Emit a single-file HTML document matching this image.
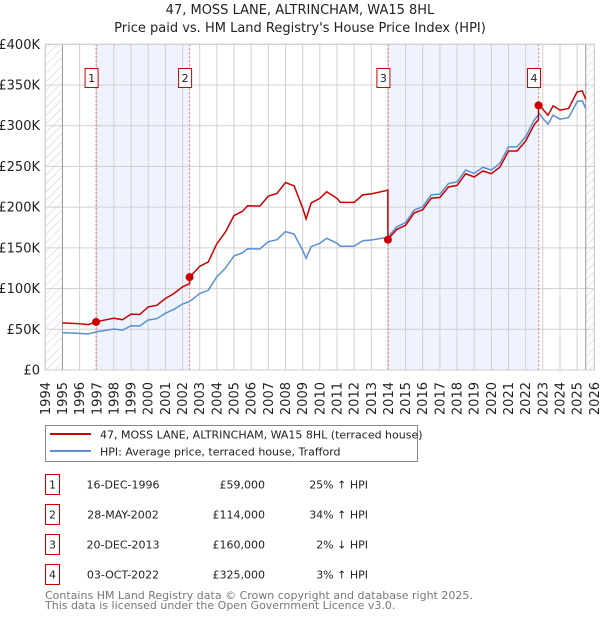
<!DOCTYPE html>
<html><head><meta charset="utf-8"><style>
body{margin:0;background:#fff;font-family:"DejaVu Sans","Liberation Sans",sans-serif;}
svg text{font-family:"DejaVu Sans","Liberation Sans",sans-serif;}
</style></head><body>
<svg id="c" width="600" height="620" xmlns="http://www.w3.org/2000/svg">
<defs><pattern id="hatch" width="6" height="6" patternUnits="userSpaceOnUse" patternTransform="rotate(45)"><line x1="0" y1="0" x2="0" y2="6" stroke="#ccc" stroke-width="1"/></pattern></defs>
<text x="300" y="14" text-anchor="middle" font-size="13" fill="#222">47, MOSS LANE, ALTRINCHAM, WA15 8HL</text>
<text x="300" y="32" text-anchor="middle" font-size="13" fill="#222">Price paid vs. HM Land Registry's House Price Index (HPI)</text>
<g id="plot"></g>
<g>
<rect x="45.5" y="425.5" width="372" height="36" fill="#fff" stroke="#888"/>
<line x1="50" y1="434" x2="91" y2="434" stroke="#cc0000" stroke-width="2"/>
<text x="100" y="438.5" font-size="11" fill="#222">47, MOSS LANE, ALTRINCHAM, WA15 8HL (terraced house)</text>
<line x1="50" y1="451" x2="91" y2="451" stroke="#5b8fd4" stroke-width="2"/>
<text x="100" y="455.5" font-size="11" fill="#222">HPI: Average price, terraced house, Trafford</text>
</g>
<g id="table"></g>
<text x="45" y="599" font-size="11" fill="#777">Contains HM Land Registry data © Crown copyright and database right 2025.</text>
<text x="45" y="609" font-size="11" fill="#777">This data is licensed under the Open Government Licence v3.0.</text>
</svg>
<script>
const hpiYears=[1995,1996,1996.5,1997,1998,1998.5,1999,1999.5,2000,2000.5,2001,2001.5,2002,2002.4,2003,2003.5,2004,2004.5,2005,2005.5,2005.8,2006.5,2007,2007.5,2008,2008.5,2009,2009.2,2009.5,2010,2010.4,2011,2011.2,2012,2012.5,2013,2013.97,2014.2,2014.5,2015,2015.5,2016,2016.5,2017,2017.5,2018,2018.5,2019,2019.5,2020,2020.5,2021,2021.5,2022,2022.5,2022.8,2023,2023.3,2023.6,2024,2024.5,2025,2025.3,2025.5];
const hpiValues=[45900,45000,44200,47000,50400,49000,54400,54000,61400,63000,69600,74500,81000,84000,94000,98000,114600,125000,140000,144000,149000,148600,157600,160000,170000,167000,147000,137000,151500,155600,161700,155600,152000,152000,158800,159700,163000,169000,176000,181000,196500,200600,215000,216000,229000,231000,245600,241500,249000,245600,253800,274000,274000,286600,307000,315000,309000,302000,313000,308000,310000,329600,330800,321000];
const saleYears=[1996.96,2002.41,2013.97,2022.75];
const salePrices=[59000,114000,160000,325000];
const saleLabels=["1","2","3","4"];
const saleDates=["16-DEC-1996","28-MAY-2002","20-DEC-2013","03-OCT-2022"];
const salePriceText=["£59,000","£114,000","£160,000","£325,000"];
const saleHpiText=["25% ↑ HPI","34% ↑ HPI","2% ↓ HPI","3% ↑ HPI"];
const yTicks=[0,50000,100000,150000,200000,250000,300000,350000,400000];
const yTickLabels=["£0","£50K","£100K","£150K","£200K","£250K","£300K","£350K","£400K"];

const NS="http://www.w3.org/2000/svg";
const X0=45.3,X1=594.3,Y0=370,Y1=44.3;
const sx=y=>X0+(y-1994)/32*(X1-X0);
const sy=v=>Y0-v/400000*(Y0-Y1);
function mk(tag,attrs,parent){const e=document.createElementNS(NS,tag);for(const k in attrs)e.setAttribute(k,attrs[k]);parent.appendChild(e);return e;}
function hpiAt(t){for(let i=0;i<hpiYears.length-1;i++){if(t<=hpiYears[i+1]){const f=(t-hpiYears[i])/(hpiYears[i+1]-hpiYears[i]);return hpiValues[i]+f*(hpiValues[i+1]-hpiValues[i]);}}return hpiValues[hpiValues.length-1];}
const plot=document.getElementById('plot');
const endYear=hpiYears[hpiYears.length-1];
let h=mk('rect',{x:X0,y:Y1,width:sx(1995)-X0,height:Y0-Y1,fill:'url(#hatch)'},plot);


h=mk('rect',{x:sx(endYear),y:Y1,width:X1-sx(endYear),height:Y0-Y1,fill:'url(#hatch)'},plot);


[[0,1],[2,3]].forEach((p,i)=>{const r=mk('rect',{x:sx(saleYears[p[0]]),y:Y1,width:sx(saleYears[p[1]])-sx(saleYears[p[0]]),height:Y0-Y1,fill:'#eef3fd'},plot);

});
for(let yr=1994;yr<=2026;yr++){const l=mk('line',{x1:sx(yr),x2:sx(yr),y1:Y1,y2:Y0,stroke:'#d0d0d0','stroke-width':1},plot);


const t=mk('text',{x:0,y:0,'font-size':13,fill:'#222','text-anchor':'end',transform:`translate(${sx(yr)+4.5},382) rotate(-90)`},plot);t.textContent=yr;

}
yTicks.forEach((v,i)=>{const l=mk('line',{x1:X0,x2:X1,y1:sy(v),y2:sy(v),stroke:'#d0d0d0','stroke-width':1},plot);


const t=mk('text',{x:40,y:sy(v)+4.5,'font-size':13,fill:'#222','text-anchor':'end'},plot);t.textContent=yTickLabels[i];

});
let a=mk('line',{x1:sx(1995),x2:sx(1995),y1:Y1,y2:Y0,stroke:'#999'},plot);


a=mk('line',{x1:sx(endYear),x2:sx(endYear),y1:Y1,y2:Y0,stroke:'#999'},plot);


saleYears.forEach((s,i)=>{const l=mk('line',{x1:sx(s),x2:sx(s),y1:Y1,y2:Y0,stroke:'#f07070','stroke-dasharray':'2,2'},plot);

});
const hp=hpiYears.map((y,i)=>sx(y).toFixed(1)+','+sy(hpiValues[i]).toFixed(1)).join(' ');
const hl=mk('polyline',{points:hp,fill:'none',stroke:'#5b8fd4','stroke-width':1.5},plot);


const ratios=saleYears.map((s,i)=>salePrices[i]/hpiAt(s));
const ts=[...new Set(hpiYears.concat(saleYears))].sort((a,b)=>a-b);
const pts=[];
ts.forEach(t=>{let k=0;for(let i=0;i<saleYears.length;i++)if(t>=saleYears[i])k=i;
if(saleYears.includes(t)&&k>0){pts.push([t,hpiAt(t)*ratios[k-1]]);}
pts.push([t,hpiAt(t)*ratios[k]]);});
const pl=mk('polyline',{points:pts.map(p=>sx(p[0]).toFixed(1)+','+sy(p[1]).toFixed(1)).join(' '),fill:'none',stroke:'#cc0000','stroke-width':1.5},plot);


saleYears.forEach((s,i)=>{const c=mk('circle',{cx:sx(s),cy:sy(salePrices[i]),r:4,fill:'#cc0000'},plot);


const bx=sx(s)-11;const r=mk('rect',{x:bx,y:68.5,width:13,height:19,fill:'#fff',stroke:'#cc0000'},plot);


const t=mk('text',{x:bx+6.5,y:82,'font-size':11,'text-anchor':'middle',fill:'#222'},plot);t.textContent=saleLabels[i];

});
mk('rect',{x:X0,y:Y1,width:X1-X0,height:Y0-Y1,fill:'none',stroke:'#ccc'},plot);
const tb=document.getElementById('table');
saleYears.forEach((s,i)=>{const y=483+i*30;
const r=mk('rect',{x:45.5,y:y-8.5,width:14,height:20,fill:'#fff',stroke:'#cc0000'},tb);


const cols=[[52.5,saleLabels[i],'middle'],[123,saleDates[i],'middle'],[265,salePriceText[i],'end'],[368,saleHpiText[i],'end']];
cols.forEach(c=>{const t=mk('text',{x:c[0],y:y+5.5,'font-size':11,fill:'#222','text-anchor':c[2]},tb);t.textContent=c[1];

});});
</script>
</body></html>
